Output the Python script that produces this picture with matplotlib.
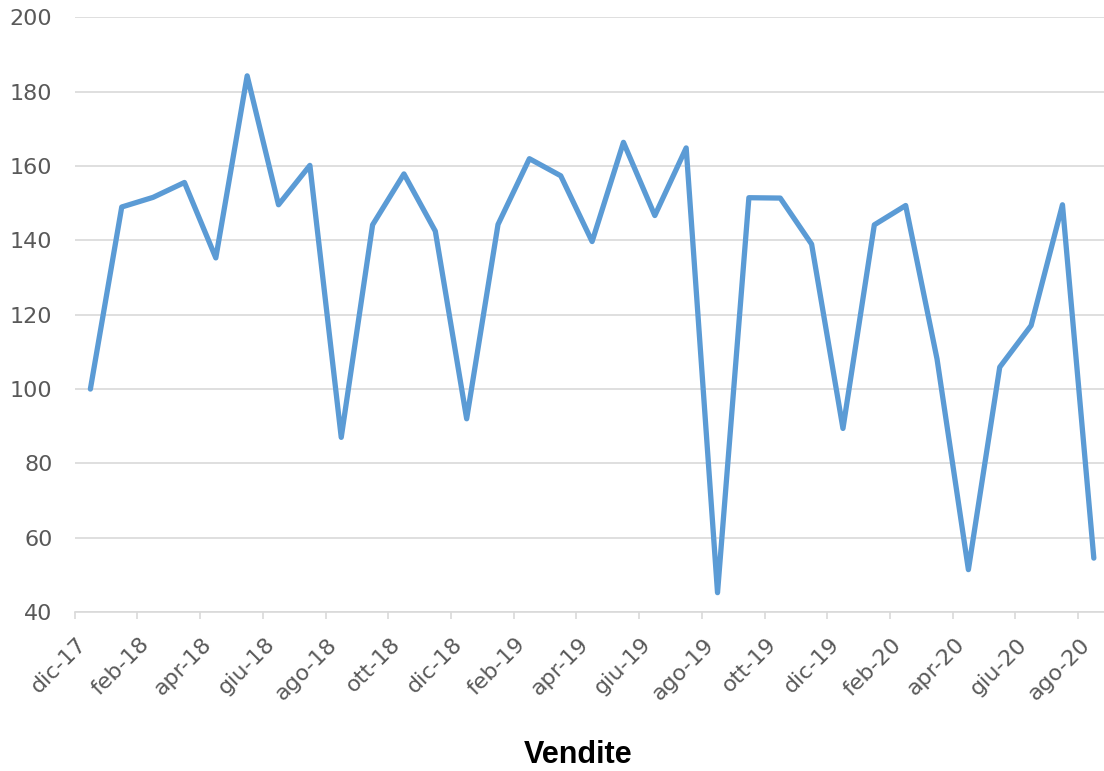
import matplotlib
matplotlib.use("Agg")
import matplotlib.pyplot as plt
import numpy as np

# mesi (dic-17 .. ago-20)
mesi = ["dic-17", "gen-18", "feb-18", "mar-18", "apr-18", "mag-18", "giu-18",
        "lug-18", "ago-18", "set-18", "ott-18", "nov-18", "dic-18", "gen-19",
        "feb-19", "mar-19", "apr-19", "mag-19", "giu-19", "lug-19", "ago-19",
        "set-19", "ott-19", "nov-19", "dic-19", "gen-20", "feb-20", "mar-20",
        "apr-20", "mag-20", "giu-20", "lug-20", "ago-20"]

vendite = [100, 149, 151.6, 155.6, 135.3, 184.3, 149.6, 160.2, 87, 144.2,
           157.9, 142.5, 92, 144.3, 162, 157.4, 139.7, 166.4, 146.7, 164.9,
           45.2, 151.5, 151.4, 139, 89.4, 144.2, 149.4, 108.1, 51.4, 105.9,
           117.1, 149.6, 54.5]

y_ticks = [40, 60, 80, 100, 120, 140, 160, 180, 200]

fig = plt.figure(figsize=(11.04, 7.71), dpi=100)
ax = fig.add_axes([74.7 / 1104, 159 / 771, (1109.5 - 74.7) / 1104, 594.5 / 771])

x = np.arange(len(mesi))
ax.plot(x, vendite, color="#5B9BD5", lw=3.8, solid_joinstyle="round",
        solid_capstyle="round", zorder=3)

ax.set_xlim(-0.5, len(mesi) - 0.5)
ax.set_ylim(40, 200)
ax.set_yticks(y_ticks)
ax.grid(axis="y", color="#D9D9D9", lw=1.2, zorder=0)
ax.tick_params(axis="y", length=0, pad=16, labelsize=16, labelcolor="#595959")

# etichette ogni 2 mesi, tacche tra le categorie
ax.set_xticks(x[::2])
ax.set_xticklabels(mesi[::2], rotation=45, ha="right", va="top",
                   fontsize=16, color="#595959")
ax.tick_params(axis="x", which="major", length=0, pad=16)
ax.set_xticks(np.arange(-0.5, len(mesi), 2), minor=True)
ax.tick_params(axis="x", which="minor", length=5, width=1.2, color="#D9D9D9")

for s in ["top", "right", "left"]:
    ax.spines[s].set_visible(False)
ax.spines["bottom"].set_color("#D9D9D9")
ax.spines["bottom"].set_linewidth(1.2)

fig.text(578 / 1104, 1 - 755 / 771, "Vendite", ha="center", va="center",
         fontsize=22, fontweight="bold", fontfamily="Liberation Sans")

fig.savefig("out.png", dpi=100)
